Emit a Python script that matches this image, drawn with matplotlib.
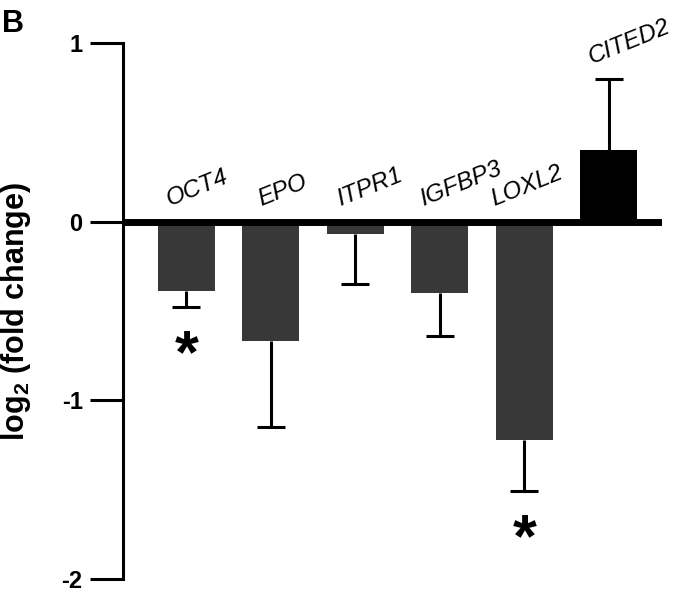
import matplotlib
matplotlib.use('Agg')
import matplotlib.pyplot as plt
import numpy as np

# ---- data ----
genes = ['OCT4', 'EPO', 'ITPR1', 'IGFBP3', 'LOXL2', 'CITED2']
log2fc = [-0.39, -0.67, -0.07, -0.40, -1.22, 0.40]
sem = [0.09, 0.48, 0.28, 0.24, 0.29, 0.40]
significant = [True, False, False, False, True, False]
y_ticks = [-2, -1, 0, 1]

# ---- layout (not data) ----
label_dx = [-0.2, -0.11, -0.18, -0.2, -0.35, -0.2]

plt.rcParams['font.family'] = ['Liberation Sans', 'DejaVu Sans']
plt.rcParams['axes.unicode_minus'] = False
plt.rcParams['mathtext.fontset'] = 'custom'
plt.rcParams['mathtext.rm'] = 'Liberation Sans'
plt.rcParams['mathtext.bf'] = 'Liberation Sans:bold'

W, H = 684, 592
fig = plt.figure(figsize=(W / 100, H / 100), dpi=100)
ax = fig.add_axes([123 / W, 1 - 579 / H, (662 - 123) / W, (579 - 43) / H])

x = np.arange(len(genes))
colors = ['#000000' if v > 0 else '#383838' for v in log2fc]
ax.bar(x, log2fc, width=0.675, color=colors, edgecolor='none', zorder=3)

lower = [s if v < 0 else 0 for v, s in zip(log2fc, sem)]
upper = [s if v > 0 else 0 for v, s in zip(log2fc, sem)]
_, caps, _ = ax.errorbar(x, log2fc, yerr=[lower, upper], fmt='none', ecolor='black',
                         elinewidth=2.2, capsize=10, capthick=2.2, zorder=2)
# keep only the cap on the side away from zero
caps[0].set_markevery([i for i, v in enumerate(log2fc) if v < 0])
caps[1].set_markevery([i for i, v in enumerate(log2fc) if v > 0])

ax.axhline(0, color='black', lw=5, zorder=4)

ax.set_xlim(-0.75, 5.63)
ax.set_ylim(-2, 1)
for s in ['top', 'right', 'bottom']:
    ax.spines[s].set_visible(False)
ax.spines['left'].set_linewidth(2.2)
ax.set_xticks([])
ax.set_yticks(y_ticks)
ax.set_yticklabels([str(t) for t in y_ticks])
ax.tick_params(axis='y', length=24, width=2.2, pad=5, labelsize=17)
for lbl in ax.get_yticklabels():
    lbl.set_fontweight('bold')

for i, (g, v, s) in enumerate(zip(genes, log2fc, sem)):
    ytop = max(0, v + (s if v > 0 else 0))
    ax.text(i + label_dx[i], ytop + 0.085, g, rotation=22, rotation_mode='anchor',
            ha='left', va='baseline', style='italic', fontsize=17.5)
    if significant[i]:
        ax.annotate('*', xy=(i, v - s), xytext=(0, -15), textcoords='offset points',
                    ha='center', va='top', fontsize=44, fontweight='bold')

fig.text(16 / W, 1 - 311 / H, r'log$_\mathbf{2}$ (fold change)', rotation=90,
         ha='center', va='center', fontsize=22, fontweight='bold')
fig.text(2 / W, 1 - 32 / H, 'B', fontsize=22, fontweight='bold', ha='left', va='baseline')

fig.savefig('out.png', dpi=100)
